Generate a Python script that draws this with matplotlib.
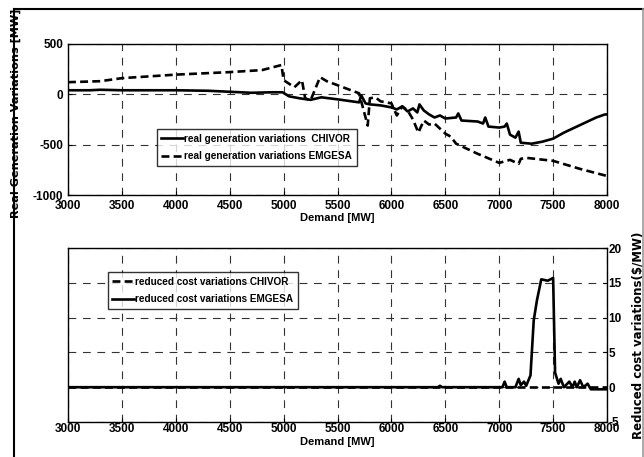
import numpy as np
import matplotlib
matplotlib.use('Agg')
import matplotlib.pyplot as plt
from matplotlib.lines import Line2D

plt.rcParams['font.family'] = ['Liberation Sans Narrow', 'Liberation Sans', 'DejaVu Sans']
plt.rcParams['font.weight'] = 'bold'
plt.rcParams['axes.unicode_minus'] = False

# real generation variations, CHIVOR (solid)
chivor_x = [3000, 3200, 3300, 3500, 3800, 4000, 4300, 4500, 4700, 4900, 4990, 5050, 5150, 5250,
            5350, 5500, 5700, 5720, 5760, 5800, 5900, 6000, 6050, 6100, 6150, 6200, 6240, 6260,
            6300, 6350, 6400, 6450, 6500, 6600, 6620, 6650, 6800, 6850, 6870, 6900, 7000, 7050,
            7070, 7100, 7150, 7180, 7200, 7300, 7400, 7500, 7600, 7700, 7800, 7900, 7980, 8000]
chivor_y = [40, 40, 45, 40, 40, 40, 35, 25, 15, 20, 20, -20, -40, -55,
            -30, -50, -80, -10, -90, -100, -110, -130, -150, -120, -170, -140, -180, -100,
            -160, -200, -230, -210, -240, -230, -190, -260, -270, -290, -230, -320, -330, -320,
            -290, -400, -430, -370, -480, -490, -470, -440, -380, -330, -280, -230, -200, -200]

# real generation variations, EMGESA (dashed)
emgesa_x = [3000, 3300, 3500, 4000, 4500, 4800, 4980, 5000, 5100, 5170, 5200, 5250, 5338,
            5400, 5500, 5700, 5780, 5800, 5850, 5900, 6000, 6050, 6100, 6150, 6200, 6250,
            6300, 6350, 6400, 6450, 6500, 6550, 6600, 6800, 7000, 7100, 7180, 7200, 7250,
            7500, 7750, 8000]
emgesa_y = [120, 130, 160, 195, 220, 240, 290, 140, 70, 140, -40, -60, 170,
            130, 90, 10, -310, -40, -30, -70, -90, -210, -120, -160, -250, -380,
            -260, -300, -290, -340, -390, -420, -490, -590, -680, -650, -690, -640, -630,
            -660, -740, -810]

# reduced cost variations
cost_x = [3000, 6430, 6450, 6470, 7030, 7050, 7070, 7150, 7180, 7200, 7230, 7250, 7290, 7320,
          7350, 7390, 7450, 7500, 7518, 7550, 7570, 7600, 7650, 7680, 7700, 7720, 7750,
          7780, 7820, 7850, 8000]
cost_emgesa = [0, 0, 0.2, 0, 0, 0.8, 0, 0, 1.2, 0.3, 0.8, 0.2, 1.7, 9.6,
               12.5, 15.5, 15.3, 15.7, 2.1, 0.5, 1.2, 0, 0.8, 0, 0.8, 0, 1.0,
               0, 0.5, -0.3, -0.3]
cost_chivor_x = [3000, 8000]
cost_chivor = [0, 0]

xticks = [3000, 3500, 4000, 4500, 5000, 5500, 6000, 6500, 7000, 7500, 8000]

fig = plt.figure(figsize=(6.44, 4.57), dpi=100)

# frame around the figure (left, top, right)
fig.add_artist(Line2D([0.021, 0.021], [0, 0.981], color='black', lw=1.5, transform=fig.transFigure))
fig.add_artist(Line2D([0.021, 0.998], [0.981, 0.981], color='black', lw=1.5, transform=fig.transFigure))
fig.add_artist(Line2D([0.998, 0.998], [0, 0.981], color='#999999', lw=1.2, transform=fig.transFigure))

gridkw = dict(color='#333333', linestyle=(0, (7, 6)), linewidth=0.8)
tickfont = 8.5
legkw = dict(loc='upper left', fontsize=7.2, frameon=True, fancybox=False, edgecolor='black',
             handlelength=2.2, handletextpad=0.1, borderpad=0.45, labelspacing=0.75,
             borderaxespad=0)

ax1 = fig.add_axes([0.1056, 0.573, 0.837, 0.331])
ax1.plot(chivor_x, chivor_y, color='black', lw=1.9, label='real generation variations  CHIVOR')
ax1.plot(emgesa_x, emgesa_y, color='black', lw=1.9, linestyle=(0, (3.0, 1.6)),
         label='real generation variations EMGESA')
ax1.set_xlim(3000, 8000)
ax1.set_ylim(-1000, 500)
ax1.set_xticks(xticks)
ax1.set_yticks([-1000, -500, 0, 500])
ax1.grid(True, **gridkw)
ax1.tick_params(direction='in', labelsize=tickfont, length=3)
ax1.set_xlabel('Demand [MW]', fontsize=8, fontweight='bold', labelpad=1)
ax1.set_ylabel('Real Generation Variations [MW]', fontsize=8.1,
               fontweight='bold', family='DejaVu Sans')
ax1.yaxis.set_label_coords(-0.088, 0.54)
leg1 = ax1.legend(bbox_to_anchor=(0.165, 0.437), **legkw)
leg1.get_frame().set_linewidth(1.0)

ax2 = fig.add_axes([0.1056, 0.0766, 0.837, 0.3807])
ax2.plot(cost_chivor_x, cost_chivor, color='black', lw=1.9, linestyle=(0, (3.0, 1.6)),
         label='reduced cost variations CHIVOR')
ax2.plot(cost_x, cost_emgesa, color='black', lw=1.9, label='reduced cost variations EMGESA')
ax2.set_xlim(3000, 8000)
ax2.set_ylim(-5, 20)
ax2.set_xticks(xticks)
ax2.set_yticks([-5, 0, 5, 10, 15, 20])
ax2.grid(True, **gridkw)
ax2.yaxis.tick_right()
ax2.yaxis.set_label_position('right')
ax2.tick_params(direction='in', labelsize=tickfont, length=3, pad=1)
ax2.set_xlabel('Demand [MW]', fontsize=8, fontweight='bold', labelpad=1)
ax2.set_ylabel('Reduced cost variations($/MW)', fontsize=8.5,
               fontweight='bold', family='DejaVu Sans')
ax2.yaxis.set_label_coords(1.045, 0.5)
leg2 = ax2.legend(bbox_to_anchor=(0.074, 0.862), **legkw)
leg2.get_frame().set_linewidth(1.0)

for ax in (ax1, ax2):
    for s in ax.spines.values():
        s.set_linewidth(1.0)

fig.savefig('out.png', dpi=100)
